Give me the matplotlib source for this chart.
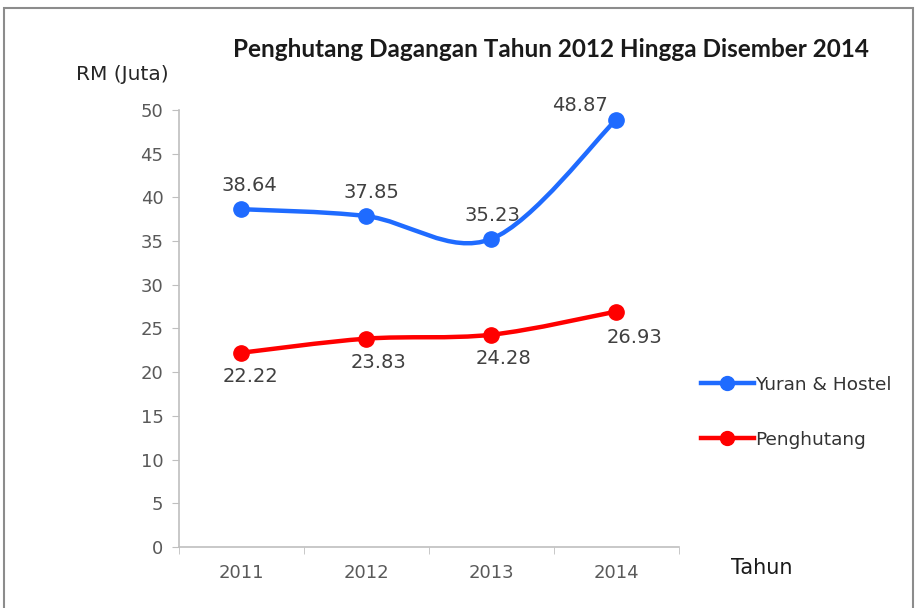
import numpy as np
import matplotlib.pyplot as plt
from matplotlib.path import Path
from matplotlib.patches import PathPatch, Rectangle
from matplotlib.lines import Line2D

# Data
years = ["2011", "2012", "2013", "2014"]
yuran = [38.64, 37.85, 35.23, 48.87]
penghutang = [22.22, 23.83, 24.28, 26.93]

blue = "#1F6BFF"
red = "#FF0000"
grey = "#595959"


def smooth_path(xs, ys):
    # Excel-like smoothed line: cubic Bezier with Catmull-Rom control points
    pts = np.column_stack([xs, ys]).astype(float)
    verts = [pts[0]]
    codes = [Path.MOVETO]
    n = len(pts)
    for i in range(n - 1):
        p0 = pts[max(i - 1, 0)]
        p1 = pts[i]
        p2 = pts[i + 1]
        p3 = pts[min(i + 2, n - 1)]
        c1 = p1 + (p2 - p0) / 6
        c2 = p2 - (p3 - p1) / 6
        verts += [c1, c2, p2]
        codes += [Path.CURVE4] * 3
    return Path(verts, codes)


fig = plt.figure(figsize=(9.17, 6.08), dpi=100)
ax = fig.add_axes([0.195, 0.1003, 0.545, 0.719])

x = np.arange(len(years))
for vals, col in [(yuran, blue), (penghutang, red)]:
    ax.add_patch(PathPatch(smooth_path(x, vals), fill=False, edgecolor=col,
                           lw=3.2, capstyle="round", zorder=3))
    ax.plot(x, vals, "o", color=col, ms=11, zorder=4)

# data labels (offsets in points)
blue_off = [(6, 17), (4, 17), (1, 17), (-26, 10)]
red_off = [(6.5, -17), (9, -17), (9, -17), (13, -19)]
for xi, v, off in zip(x, yuran, blue_off):
    ax.annotate(f"{v:.2f}", (xi, v), xytext=off, textcoords="offset points",
                ha="center", va="center", fontsize=14, color="#404040")
for xi, v, off in zip(x, penghutang, red_off):
    ax.annotate(f"{v:.2f}", (xi, v), xytext=off, textcoords="offset points",
                ha="center", va="center", fontsize=14, color="#404040")

ax.set_xlim(-0.5, 3.5)
ax.set_ylim(0, 50)
ax.set_yticks(range(0, 51, 5))
ax.set_xticks(x)
ax.set_xticklabels(years)
ax.set_xticks(np.arange(-0.5, 3.6, 1), minor=True)
ax.tick_params(axis="x", which="major", length=0, pad=12)
ax.tick_params(axis="x", which="minor", length=5, color="#BFBFBF")
ax.tick_params(axis="y", length=5, color="#BFBFBF", pad=6)
ax.tick_params(labelsize=13, labelcolor=grey)
for s in ["top", "right"]:
    ax.spines[s].set_visible(False)
for s in ["left", "bottom"]:
    ax.spines[s].set_color("#BFBFBF")
    ax.spines[s].set_linewidth(1.2)

fig.text(0.601, 0.918, "Penghutang Dagangan Tahun 2012 Hingga Disember 2014",
         ha="center", va="center", fontsize=17.5, fontweight="bold",
         family="Lato", color="#1a1a1a")
fig.text(0.133, 0.878, "RM (Juta)", ha="center", va="center", fontsize=14.5,
         color="#262626")
fig.text(0.831, 0.066, "Tahun", ha="center", va="center", fontsize=15,
         color="#1a1a1a")

handles = [Line2D([], [], color=blue, lw=3.2, marker="o", ms=10),
           Line2D([], [], color=red, lw=3.2, marker="o", ms=10)]
fig.legend(handles, ["Yuran & Hostel", "Penghutang"], loc="center left",
           bbox_to_anchor=(0.746, 0.322), frameon=False, handlelength=2.9,
           handletextpad=0.05, labelspacing=2.0,
           prop={"size": 13.3}, labelcolor="#333333")

fig.patches.append(Rectangle((4 / 917, -0.05), 909 / 917, 1 - 8 / 608 + 0.05,
                             transform=fig.transFigure, fill=False,
                             edgecolor="#8c8c8c", lw=1.5))

plt.savefig("out.png", dpi=100)
